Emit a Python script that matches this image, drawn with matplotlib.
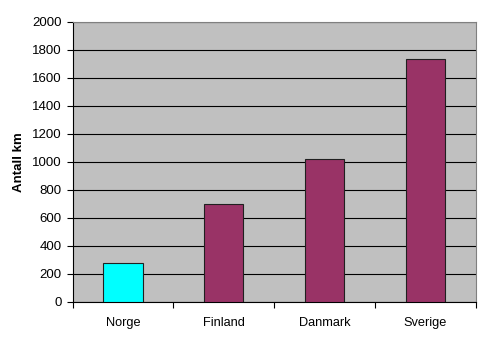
import matplotlib
matplotlib.use("Agg")
import matplotlib.pyplot as plt
import numpy as np

categories = ["Norge", "Finland", "Danmark", "Sverige"]
values = [280, 700, 1022, 1735]
colors = ["#00FFFF", "#993366", "#993366", "#993366"]
yticks = list(range(0, 2001, 200))

plt.rcParams['font.family'] = ['Liberation Sans', 'DejaVu Sans']

fig = plt.figure(figsize=(4.92, 3.42), dpi=100)
ax = fig.add_axes([72.5/492, 40/342, (476-72.5)/492, (302-21.5)/342])
ax.set_facecolor("#C0C0C0")
ax.set_axisbelow(True)
x = np.arange(len(categories))
ax.bar(x, values, width=0.39, color=colors, edgecolor="#202020", linewidth=0.8, zorder=3)
ax.set_xlim(-0.5, len(categories) - 0.5)
ax.set_ylim(0, 2000)
ax.set_yticks(yticks)
ax.set_yticklabels([str(v) for v in yticks], fontsize=9.5)
ax.yaxis.grid(True, color="black", linewidth=0.8)
ax.set_xticks(x)
ax.set_xticklabels(categories, fontsize=9.2)
ax.tick_params(axis='x', which='major', length=0, pad=11)
ax.set_xticks(np.arange(-0.5, len(categories)), minor=True)
ax.tick_params(axis='x', which='minor', length=4, width=0.8, direction='out')
ax.tick_params(axis='y', length=4, width=0.8, direction='out', pad=4)
ax.set_ylabel("Antall km", fontsize=9.5, fontweight='bold', labelpad=5)
for s in ['left', 'bottom']:
    ax.spines[s].set_color('black')
    ax.spines[s].set_linewidth(0.8)
for s in ['top', 'right']:
    ax.spines[s].set_color('#808080')
    ax.spines[s].set_linewidth(0.8)
fig.savefig("out.png", dpi=100)
